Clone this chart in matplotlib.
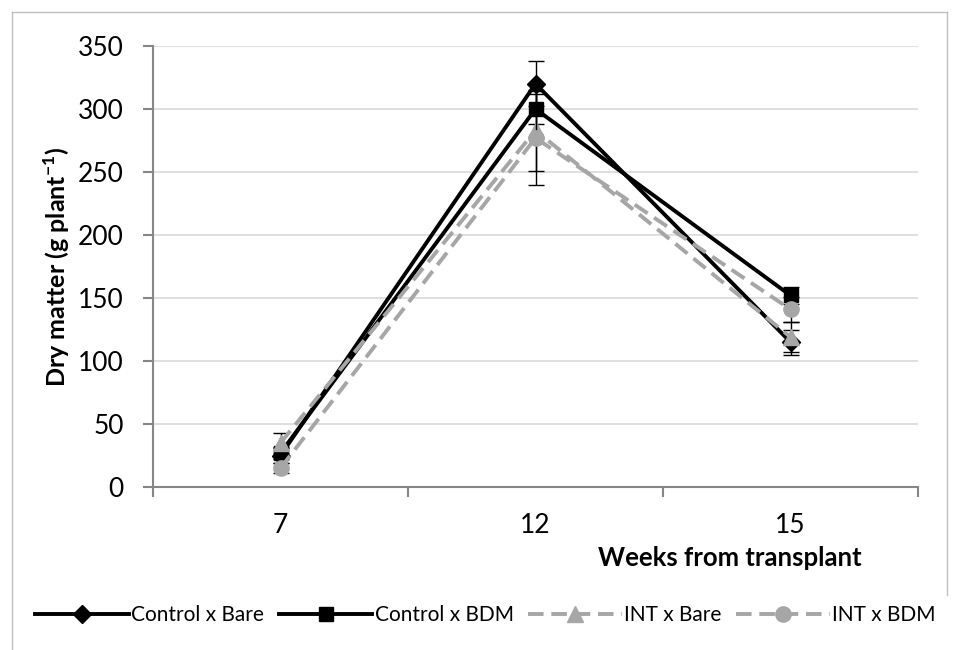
import matplotlib
matplotlib.use('Agg')
import matplotlib.pyplot as plt
from matplotlib.lines import Line2D

plt.rcParams['font.family'] = ['Lato', 'DejaVu Sans']
plt.rcParams['mathtext.fontset'] = 'custom'
plt.rcParams['mathtext.bf'] = 'Lato:bold'
plt.rcParams['mathtext.rm'] = 'Lato'

# data
weeks = ['7', '12', '15']
control_bare = [25, 320, 115]
control_bare_err = [6, 18, 10]
control_bdm = [27, 300, 152]
control_bdm_err = [5, 12, 7]
int_bare = [35, 283, 119]
int_bare_err = [8, 32, 12]
int_bdm = [15, 277, 141]
int_bdm_err = [4, 37, 10]

x = list(range(len(weeks)))
gray = '#A6A6A6'

fig = plt.figure(figsize=(9.61, 6.5), dpi=100)
ax = fig.add_axes([153 / 961, 1 - 487 / 650, 765 / 961, 441 / 650])

series = [
    ('Control x Bare', control_bare, control_bare_err, 'black', '-', 'D', 9),
    ('Control x BDM', control_bdm, control_bdm_err, 'black', '-', 's', 10),
    ('INT x Bare', int_bare, int_bare_err, gray, (0, (4, 2)), '^', 11),
    ('INT x BDM', int_bdm, int_bdm_err, gray, (0, (4, 2)), 'o', 11),
]

for i, (name, vals, err, col, ls, mk, ms) in enumerate(series):
    ax.errorbar(x, vals, yerr=err, fmt='none', ecolor='black', elinewidth=1,
                capsize=6, capthick=1, zorder=3 + i)
    ax.plot(x, vals, color=col, linestyle=ls, linewidth=2.8, marker=mk,
            markersize=ms, markerfacecolor=col, markeredgecolor=col,
            label=name, zorder=3 + i)

ax.set_xlim(-0.5, 2.5)
ax.set_ylim(0, 350)
ax.set_yticks(range(0, 351, 50))
ax.set_xticks(x)
ax.set_xticklabels(weeks)
ax.set_xticks([-0.5, 0.5, 1.5, 2.5], minor=True)
ax.tick_params(axis='x', which='major', length=0, pad=19, labelsize=19)
ax.tick_params(axis='x', which='minor', length=7, width=1.5, color='#868686')
ax.tick_params(axis='y', length=7, width=1.5, color='#868686', pad=14, labelsize=19)

ax.grid(axis='y', color='#D9D9D9', linewidth=1.2)
ax.set_axisbelow(True)
for s in ['top', 'right']:
    ax.spines[s].set_visible(False)
for s in ['left', 'bottom']:
    ax.spines[s].set_color('#868686')
    ax.spines[s].set_linewidth(1.5)

ax.set_ylabel(r'Dry matter (g plant$^{\mathbf{-1}}$)', fontsize=18, fontweight='bold', labelpad=4)
fig.text(730 / 961, 1 - 558 / 650, 'Weeks from transplant', fontsize=18.5,
         fontweight='bold', ha='center', va='center')

fig.legend(loc='center', bbox_to_anchor=(0.505, 1 - 615 / 650), ncol=4, frameon=False,
           handlelength=4.5, handletextpad=0.1, columnspacing=0.7, fontsize=15)

# chart border
border = '#BFBFBF'
fig.add_artist(Line2D([12 / 961, 12 / 961], [0, 1 - 12 / 650], color=border, lw=1))
fig.add_artist(Line2D([12 / 961, 947 / 961], [1 - 12 / 650, 1 - 12 / 650], color=border, lw=1))
fig.add_artist(Line2D([947 / 961, 947 / 961], [1 - 12 / 650, 1 - 595 / 650], color=border, lw=1))

fig.savefig('out.png', dpi=100)
